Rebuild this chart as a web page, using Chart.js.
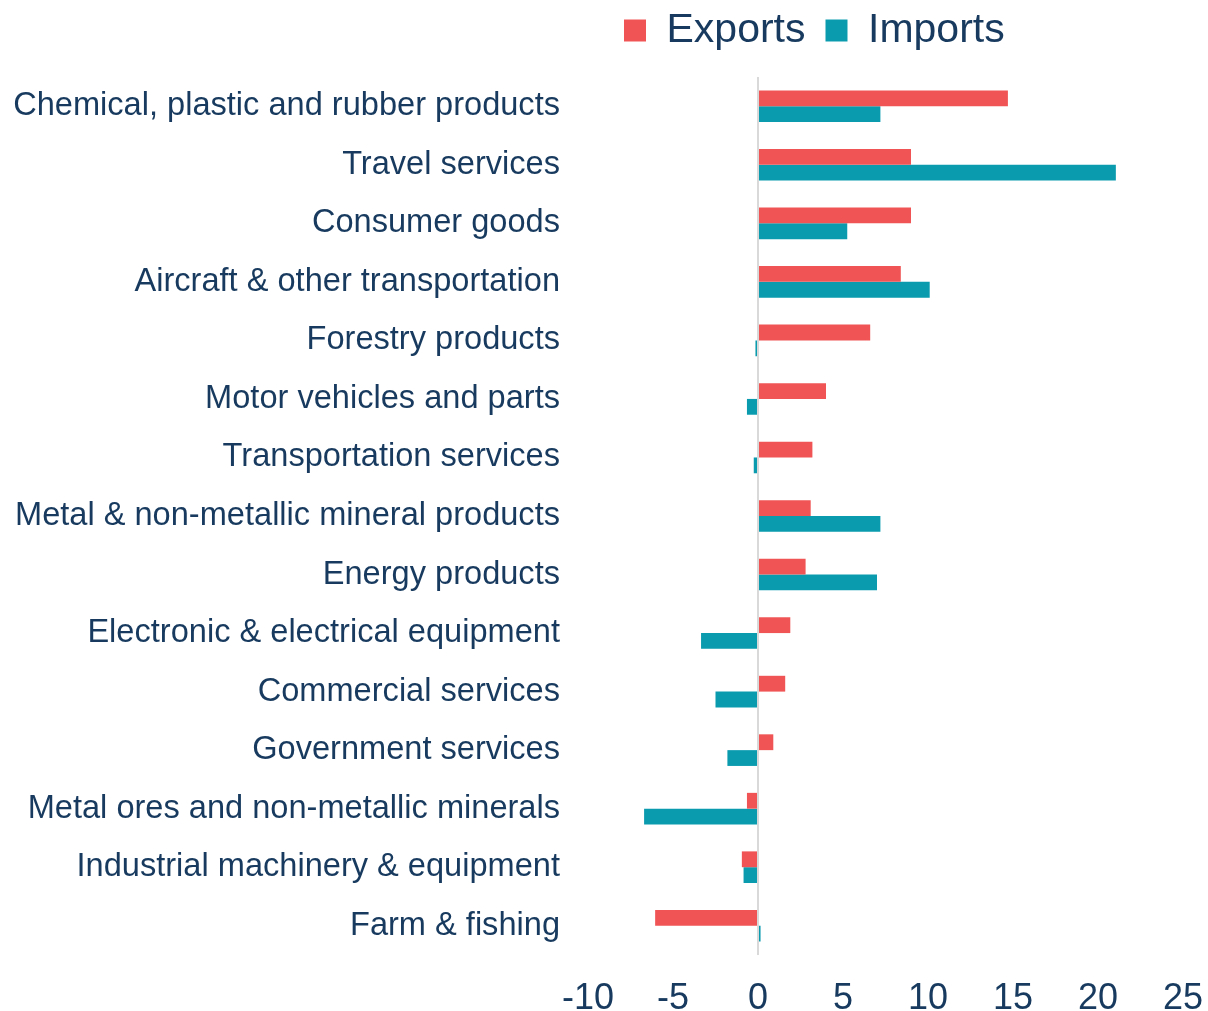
<!DOCTYPE html>
<html>
<head>
<meta charset="utf-8">
<script src="https://cdn.jsdelivr.net/npm/chart.js@4/dist/chart.umd.min.js"></script>
<style>
  html, body { margin: 0; padding: 0; background: #fff; }
  #wrap { width: 1208px; height: 1011px; position: relative; }
</style>
</head>
<body>
<div id="wrap"><canvas id="chart-area"></canvas></div>
<script>
const categories = [
    'Chemical, plastic and rubber products',
    'Travel services',
    'Consumer goods',
    'Aircraft & other transportation',
    'Forestry products',
    'Motor vehicles and parts',
    'Transportation services',
    'Metal & non-metallic mineral products',
    'Energy products',
    'Electronic & electrical equipment',
    'Commercial services',
    'Government services',
    'Metal ores and non-metallic minerals',
    'Industrial machinery & equipment',
    'Farm & fishing'
];
const exportsValues = [14.7, 9.0, 9.0, 8.4, 6.6, 4.0, 3.2, 3.1, 2.8, 1.9, 1.6, 0.9, -0.65, -0.95, -6.05];
const importsValues = [7.2, 21.05, 5.25, 10.1, -0.15, -0.65, -0.25, 7.2, 7.0, -3.35, -2.5, -1.8, -6.7, -0.85, 0.15];
const xTicks = [-10, -5, 0, 5, 10, 15, 20, 25];

const navy = '#173A5E';
const fontFamily = '"Liberation Sans", Arial, sans-serif';

// move the legend to where the original had it
const legendShift = {
    id: 'legendShift',
    afterLayout(chart) {
        const lg = chart.legend;
        if (!lg) return;
        const w = lg.width;
        lg.left = 604;
        lg.right = lg.left + w;
        lg.top -= 16;
        lg.bottom -= 16;
    }
};

const ctx = document.getElementById('chart-area').getContext('2d');
new Chart(ctx, {
    type: 'bar',
    data: {
        labels: categories,
        datasets: [{
            label: 'Exports',
            data: exportsValues,
            backgroundColor: '#F05454',
            borderWidth: 0,
            categoryPercentage: 0.54,
            barPercentage: 1
        }, {
            label: 'Imports',
            data: importsValues,
            backgroundColor: '#0A9BAE',
            borderWidth: 0,
            categoryPercentage: 0.54,
            barPercentage: 1
        }]
    },
    options: {
        indexAxis: 'y',
        responsive: true,
        maintainAspectRatio: false,
        animation: false,
        layout: { padding: { top: 6, left: 0, right: 25, bottom: 0 } },
        plugins: {
            legend: {
                display: true,
                position: 'top',
                align: 'start',
                labels: {
                    color: navy,
                    font: { family: fontFamily, size: 41 },
                    boxWidth: 22,
                    boxHeight: 22,
                    padding: 20
                }
            },
            tooltip: { enabled: false }
        },
        scales: {
            x: {
                min: -10,
                max: 25,
                afterBuildTicks: (scale) => {
                    scale.ticks = xTicks.map(v => ({ value: v }));
                },
                afterFit: (scale) => {
                    scale.height = 56;
                    scale.paddingLeft = 0;
                    scale.paddingRight = 0;
                },
                ticks: {
                    color: navy,
                    font: { family: fontFamily, size: 36 },
                    padding: 22,
                    maxRotation: 0
                },
                grid: {
                    drawTicks: false,
                    color: (c) => (c.tick && c.tick.value === 0) ? '#D9D9D9' : 'rgba(0,0,0,0)',
                    lineWidth: 2
                },
                border: { display: false }
            },
            y: {
                afterFit: (scale) => { scale.width = 588; },
                ticks: {
                    color: navy,
                    font: { family: fontFamily, size: 32.6 },
                    padding: 28,
                    autoSkip: false
                },
                grid: { display: false, drawTicks: false },
                border: { display: false }
            }
        }
    },
    plugins: [legendShift]
});
</script>
</body>
</html>
